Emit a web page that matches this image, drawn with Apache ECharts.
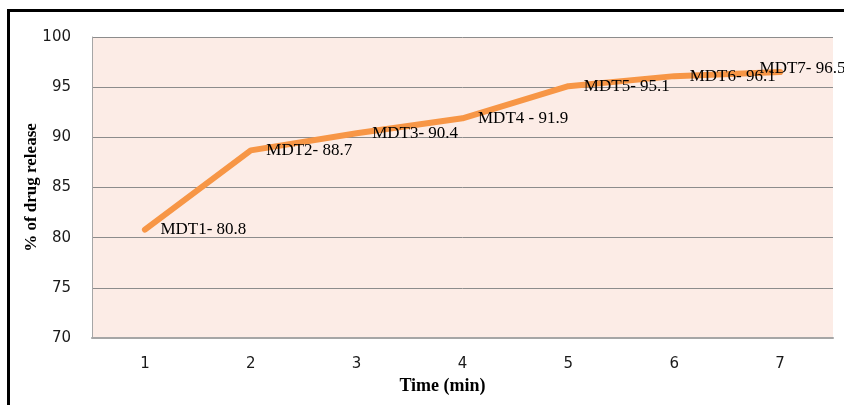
<!DOCTYPE html>
<html>
<head>
<meta charset="utf-8">
<script src="https://cdn.jsdelivr.net/npm/echarts@6/dist/echarts.min.js"></script>
<style>
  html, body { margin: 0; padding: 0; background: #fff; }
  #chart { width: 844px; height: 405px; }
</style>
</head>
<body>
<div id="chart"></div>
<script>
// time points (min)
const categories = ['1', '2', '3', '4', '5', '6', '7']
// formulation names and % drug release
const formulations = ['MDT1', 'MDT2', 'MDT3', 'MDT4', 'MDT5', 'MDT6', 'MDT7']
const releaseValues = [80.8, 88.7, 90.4, 91.9, 95.1, 96.1, 96.5]
const labelSeps = ['- ', '- ', '- ', ' - ', '- ', '- ', '- ']

const chart = echarts.init(document.getElementById('chart'))

const seriesData = releaseValues.map((v, i) => ({ value: v, name: formulations[i] }))

chart.setOption({
  animation: false,
  graphic: [
    {
      type: 'polyline',
      shape: { points: [[8.5, 405], [8.5, 10.5], [844, 10.5]] },
      style: { stroke: '#000', lineWidth: 3, fill: null }
    }
  ],
  grid: {
    left: 92,
    right: 11,
    top: 37,
    bottom: 67,
    show: true,
    backgroundColor: '#fcece6',
    borderWidth: 0
  },
  xAxis: {
    type: 'category',
    data: categories,
    name: 'Time (min)',
    nameLocation: 'middle',
    nameGap: 39,
    nameTextStyle: {
      fontFamily: 'Liberation Serif',
      fontWeight: 'bold',
      fontSize: 18,
      color: '#000',
      padding: [0, 40, 0, 0]
    },
    axisLine: { lineStyle: { color: '#a6a6a6', width: 2 } },
    axisTick: { show: false },
    axisLabel: {
      margin: 19,
      fontFamily: 'DejaVu Sans',
      fontSize: 15,
      color: '#1a1a1a'
    }
  },
  yAxis: {
    type: 'value',
    min: 70,
    max: 100,
    interval: 5,
    name: '% of drug release',
    nameLocation: 'middle',
    nameGap: 52,
    nameMoveOverlap: false,
    nameTextStyle: {
      fontFamily: 'Liberation Serif',
      fontWeight: 'bold',
      fontSize: 17,
      color: '#000'
    },
    axisLine: { show: true, lineStyle: { color: '#a6a6a6', width: 1 } },
    axisTick: { show: false },
    axisLabel: {
      margin: 21,
      fontFamily: 'DejaVu Sans',
      fontSize: 15,
      color: '#1a1a1a'
    },
    splitLine: { lineStyle: { color: '#8c8c8c', width: 1 } }
  },
  series: [
    {
      type: 'line',
      data: seriesData,
      symbol: 'circle',
      symbolSize: 1,
      showSymbol: true,
      lineStyle: { color: '#f79646', width: 6, cap: 'round', join: 'round' },
      itemStyle: { color: 'rgba(0,0,0,0)' },
      // last label sits left of its point in the original
      labelLayout: p => (p.dataIndex === releaseValues.length - 1
        ? { dx: -36, dy: -4, hideOverlap: false }
        : { hideOverlap: false }),
      label: {
        show: true,
        position: 'right',
        distance: 15,
        fontFamily: 'Liberation Serif',
        fontSize: 17,
        color: '#000',
        formatter: p => p.name + labelSeps[p.dataIndex] + p.value
      }
    }
  ]
})
</script>
</body>
</html>
